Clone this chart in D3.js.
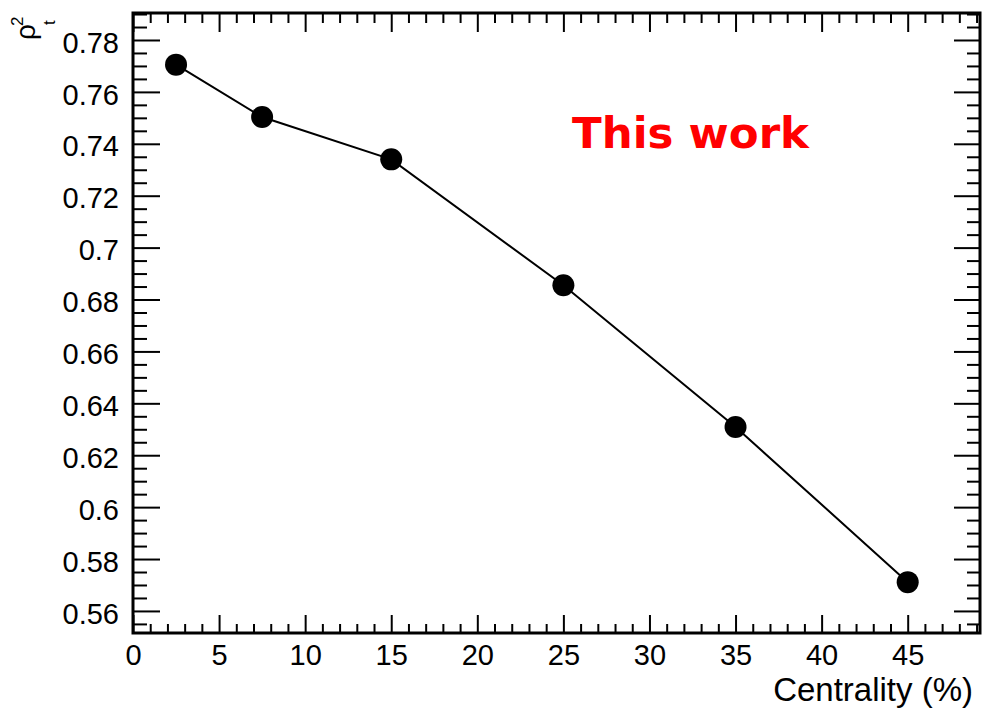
<!DOCTYPE html>
<html>
<head>
<meta charset="utf-8">
<script src="https://cdn.jsdelivr.net/npm/d3@7"></script>
<style>
  html, body { margin: 0; padding: 0; background: #fff; }
  svg { display: block; }
</style>
</head>
<body>
<svg id="chart" width="982" height="711"></svg>
<script>
// ---- data ----
const centrality = [2.5, 7.5, 15, 25, 35, 45];
const rho2t = [0.7705, 0.7503, 0.734, 0.6855, 0.6309, 0.5711];
const xTickValues = [0, 5, 10, 15, 20, 25, 30, 35, 40, 45];
const xTickLabels = ["0", "5", "10", "15", "20", "25", "30", "35", "40", "45"];
const yTickValues = [0.56, 0.58, 0.60, 0.62, 0.64, 0.66, 0.68, 0.70, 0.72, 0.74, 0.76, 0.78];
const yTickLabels = ["0.56", "0.58", "0.6", "0.62", "0.64", "0.66", "0.68", "0.7", "0.72", "0.74", "0.76", "0.78"];
const xDomain = [0, 49.2];
const yDomain = [0.5515, 0.7904];
const xTitle = "Centrality (%)";
const annotation = "This work";

// ---- layout ----
const SANS = "'Liberation Sans', Arial, Helvetica, sans-serif";
const L = 133, R = 980, T = 13, B = 633;
const svg = d3.select("#chart");
const x = d3.scaleLinear().domain(xDomain).range([L, R]);
const y = d3.scaleLinear().domain(yDomain).range([B, T]);

const xMinor = d3.range(0, 50, 1).filter(v => v <= xDomain[1] && v % 5 !== 0);
const yMinor = d3.range(0, 48).map(i => +(0.555 + i * 0.005).toFixed(3))
  .filter(v => v >= yDomain[0] && v <= yDomain[1] && Math.abs((v * 100) % 2) > 0.01 && Math.abs((v*100)%2 - 2) > 0.01);

function styleAxis(g) {
  g.select(".domain").remove();
  g.selectAll(".tick line").attr("stroke", "#000").attr("stroke-width", 2);
}

// left axis (major with labels)
const gl = svg.append("g").attr("transform", `translate(${L},0)`)
  .call(d3.axisLeft(y).tickValues(yTickValues).tickSize(-27).tickPadding(14)
    .tickFormat((d, i) => yTickLabels[i]));
styleAxis(gl);
gl.selectAll(".tick text").attr("fill", "#000").attr("dy", "0.42em")
  .style("font-family", SANS).style("font-size", "29px");
svg.append("g").attr("transform", `translate(${L},0)`)
  .call(d3.axisLeft(y).tickValues(yMinor).tickSize(-14).tickFormat(""))
  .call(styleAxis);

// right axis ticks
svg.append("g").attr("transform", `translate(${R},0)`)
  .call(d3.axisRight(y).tickValues(yTickValues).tickSize(-26).tickFormat(""))
  .call(styleAxis);
svg.append("g").attr("transform", `translate(${R},0)`)
  .call(d3.axisRight(y).tickValues(yMinor).tickSize(-13).tickFormat(""))
  .call(styleAxis);

// bottom axis
const gb = svg.append("g").attr("transform", `translate(0,${B})`)
  .call(d3.axisBottom(x).tickValues(xTickValues).tickSize(-18).tickPadding(11)
    .tickFormat((d, i) => xTickLabels[i]));
styleAxis(gb);
gb.selectAll(".tick text").attr("fill", "#000")
  .style("font-family", SANS).style("font-size", "29px");
svg.append("g").attr("transform", `translate(0,${B})`)
  .call(d3.axisBottom(x).tickValues(xMinor).tickSize(-9).tickFormat(""))
  .call(styleAxis);

// top axis ticks
svg.append("g").attr("transform", `translate(0,${T})`)
  .call(d3.axisTop(x).tickValues(xTickValues).tickSize(-19).tickFormat(""))
  .call(styleAxis);
svg.append("g").attr("transform", `translate(0,${T})`)
  .call(d3.axisTop(x).tickValues(xMinor).tickSize(-10).tickFormat(""))
  .call(styleAxis);

// frame
svg.append("rect").attr("x", L).attr("y", T).attr("width", R - L).attr("height", B - T)
  .attr("fill", "none").attr("stroke", "#000").attr("stroke-width", 3);

// data line
const pts = centrality.map((c, i) => [c, rho2t[i]]);
svg.append("path").datum(pts)
  .attr("d", d3.line().x(d => x(d[0])).y(d => y(d[1])))
  .attr("fill", "none").attr("stroke", "#000").attr("stroke-width", 2);
svg.selectAll("circle.pt").data(pts).enter().append("circle")
  .attr("class", "pt")
  .attr("cx", d => x(d[0])).attr("cy", d => y(d[1])).attr("r", 11)
  .attr("fill", "#000");

// annotation
svg.append("text").attr("x", 572).attr("y", 148)
  .style("font-family", "'DejaVu Sans', Verdana, sans-serif")
  .style("font-weight", "bold").style("font-size", "43.5px").attr("fill", "#ff0000")
  .text(annotation);

// x title
svg.append("text").attr("x", 973).attr("y", 701).attr("text-anchor", "end")
  .style("font-family", SANS).style("font-size", "33px").attr("fill", "#000").text(xTitle);

// y title rho^2_t rotated
const yt = svg.append("g").attr("transform", "rotate(-90)");
yt.append("text").attr("x", -40).attr("y", 35).style("font-family", SANS).style("font-size", "28px").attr("fill", "#000").text("ρ");
yt.append("text").attr("x", -26).attr("y", 23).style("font-family", SANS).style("font-size", "17px").attr("fill", "#000").text("2");
yt.append("text").attr("x", -25).attr("y", 55).style("font-family", SANS).style("font-size", "17px").attr("fill", "#000").text("t");
</script>
</body>
</html>
